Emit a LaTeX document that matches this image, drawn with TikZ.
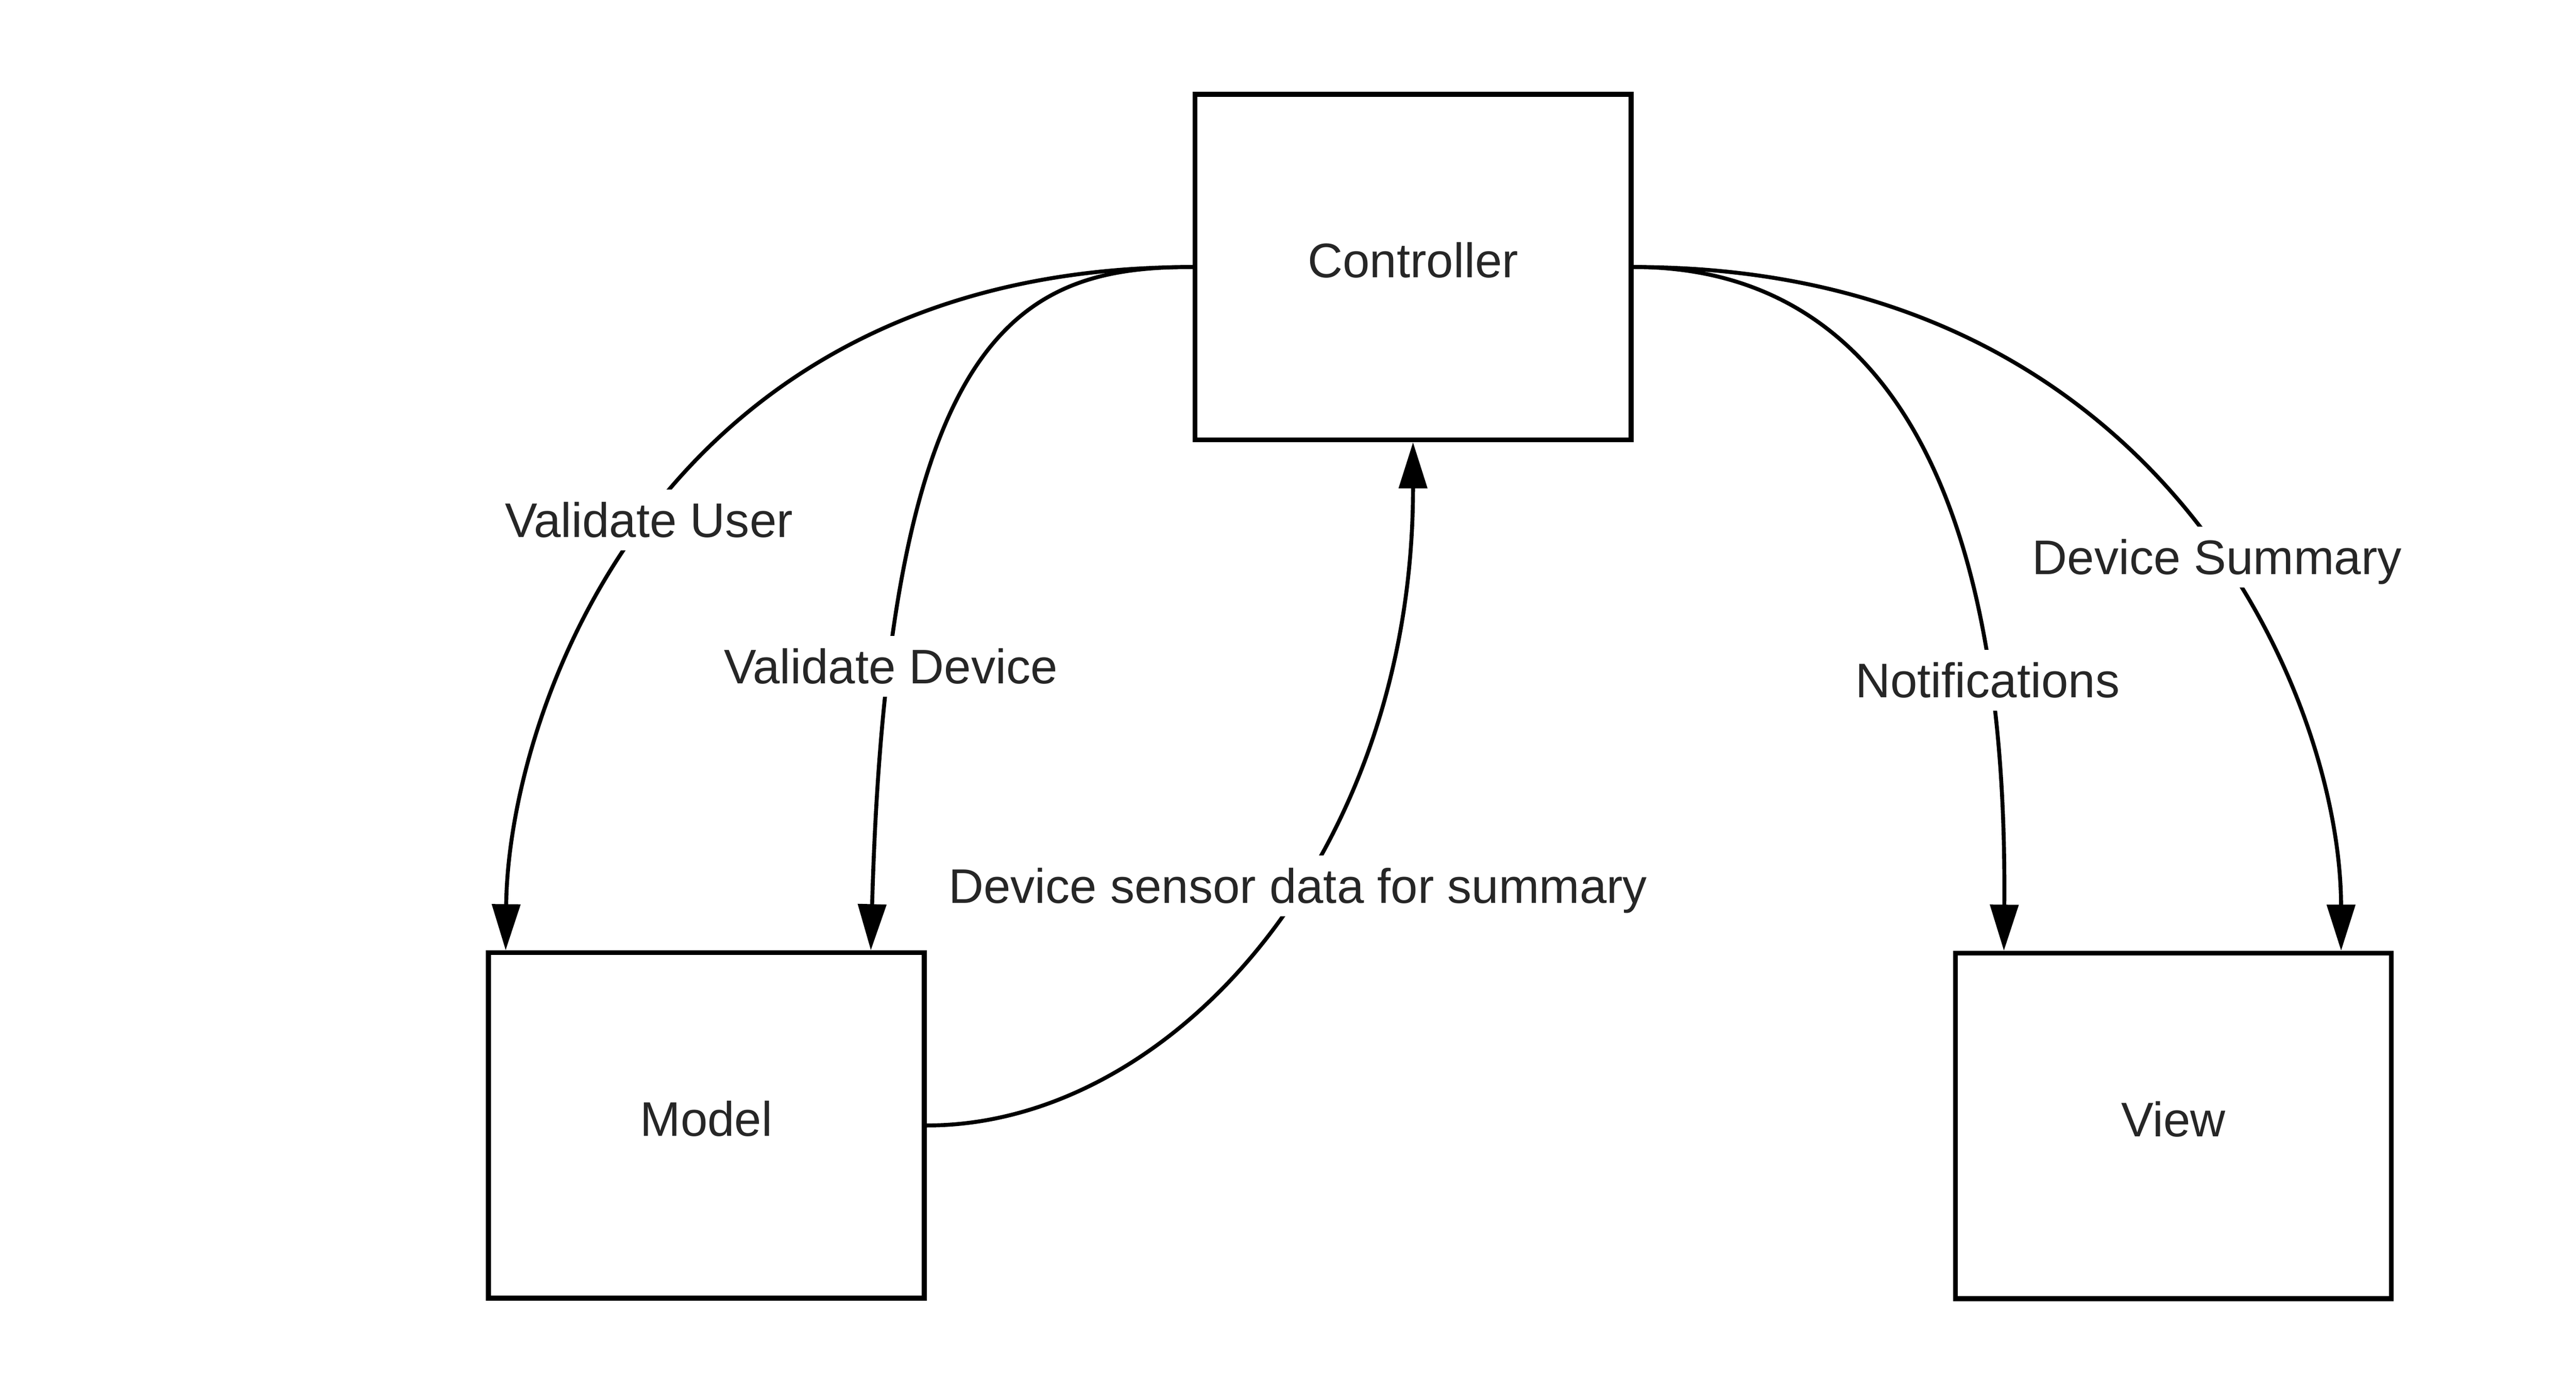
\documentclass[tikz,border=0pt]{standalone}
\usepackage{fontspec}
\setmainfont{Liberation Sans}
\usetikzlibrary{arrows.meta}
\definecolor{txt}{HTML}{262626}
\begin{document}
\begin{tikzpicture}[x=1pt,y=-1pt,
  lucfont/.style={font=\fontsize{29.5}{35}\selectfont,text=txt},
  box/.style={draw=black,line width=3pt,minimum width=265pt,minimum height=210pt,
    inner sep=0pt,lucfont,text height=13pt,text depth=0pt},
  conn/.style={draw=black,line width=2.4pt,-{Triangle[length=28pt,width=17pt]}},
  lbl/.style={fill=white,inner xsep=3pt,inner ysep=8pt,lucfont,
    text height=21pt,text depth=0pt}]
\useasboundingbox (0,0) rectangle (1566,836.75);
\node[box] (ctrl) at (859,162.3) {Controller};
\node[box] (model) at (429.4,684) {Model};
\node[box] (view) at (1321.2,684.3) {View};
\draw[conn] (ctrl.west) .. controls (399,162) and (309,434) .. ([xshift=12pt]model.north west)
  node[lbl,pos=0.5] {Validate User};
\draw[conn] (ctrl.west) .. controls (620,162) and (540,200) .. ([xshift=-34pt]model.north east)
  node[lbl,pos=0.82] {Validate Device};
\draw[conn] (model.east) .. controls (712,684) and (859,520) .. (ctrl.south)
  node[lbl,pos=0.57] {Device sensor data for summary};
\draw[conn] (ctrl.east) .. controls (1122,162) and (1221,262) .. ([xshift=31pt]view.north west)
  node[lbl,pos=0.8] {Notifications};
\draw[conn] (ctrl.east) .. controls (1315,162) and (1423,425) .. ([xshift=-32pt]view.north east)
  node[lbl,pos=0.55] {Device Summary};
\end{tikzpicture}
\end{document}
